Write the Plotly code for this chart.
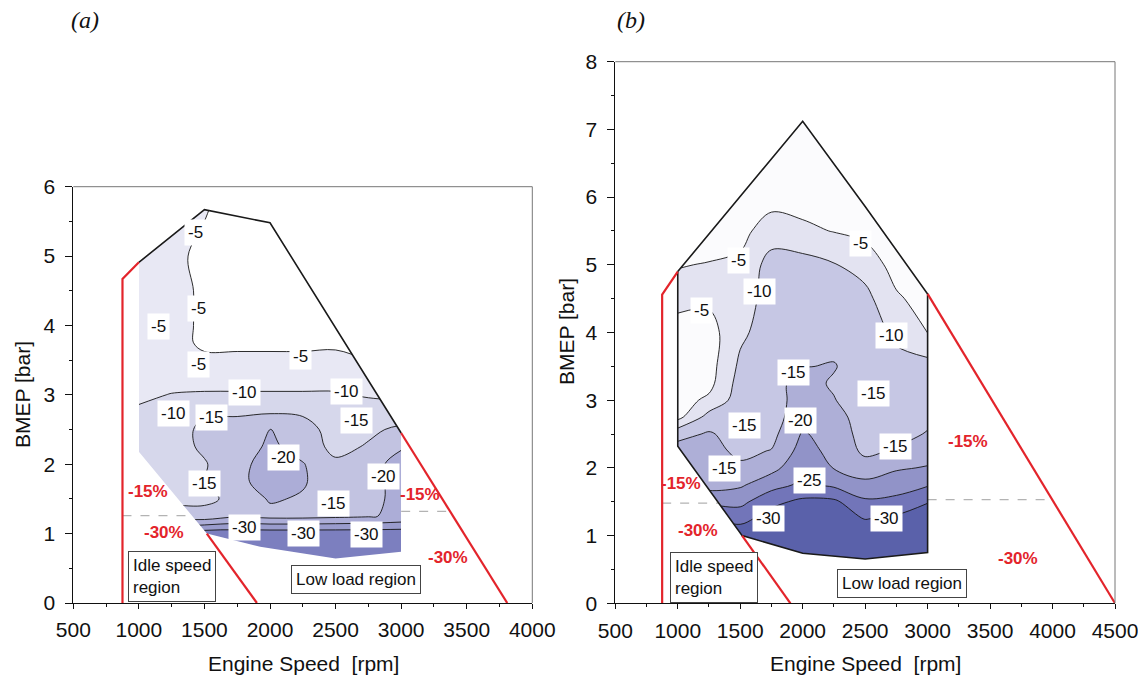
import plotly.graph_objects as go

# ---------------- data ----------------
speed_grid = [1000, 1250, 1500, 1750, 2000, 2250, 2500, 2750, 3000]

a_bmep_grid = [0.5, 0.75, 1.0, 1.25, 1.5, 1.75, 2.0, 2.25, 2.5, 2.75, 3.0, 3.25, 3.5, 3.75, 4.0, 4.5, 5.0, 5.75]
a_delta = [
    [-34, -34, -34, -34, -34, -34, -34, -34, -34],
    [-34, -34, -34, -34, -34, -34, -34, -34, -34],
    [-30, -30, -33, -33, -33, -33, -33, -33, -33],
    [-20, -18, -17, -19.5, -18.5, -18.5, -19, -19.6, -21],
    [-14, -13.5, -13.8, -16.5, -20.5, -19.5, -14.6, -18, -22],
    [-13, -13, -14.9, -18.5, -22.5, -20.5, -17, -18, -22],
    [-13, -13, -14.6, -18.5, -22, -20.3, -16, -18, -22],
    [-13, -13, -15.8, -17, -21, -18, -13.5, -15.5, -19.5],
    [-13, -13, -16, -16.5, -20.3, -16.5, -13.5, -14, -16],
    [-10.8, -11.5, -14.5, -14.5, -14.5, -14.5, -14, -12.5, -12],
    [-9, -10.2, -10.5, -10.5, -10.5, -10.5, -10.5, -9.5, -9],
    [-8, -8, -8, -8, -8, -8, -8, -7, -6],
    [-7, -7, -6, -6, -6, -6, -6, -5, -4],
    [-7, -7, -4, -4, -4, -4, -4.3, -3, -3],
    [-7, -7, -4, -3, -3, -3, -3, -3, -3],
    [-7, -7, -4, -3, -3, -3, -3, -3, -3],
    [-7, -6, -4, -3, -3, -3, -3, -3, -3],
    [-7, -6, -5.5, -3, -3, -3, -3, -3, -3],
]

# (b)
b_bmep_grid = [0.5, 0.75, 1.0, 1.25, 1.5, 1.75, 2.0, 2.25, 2.5, 2.75, 3.0, 3.25, 3.5, 4.0, 4.5, 5.0, 5.5, 6.0, 7.25]
b_delta = [
    [-34, -34, -34, -34, -34, -34, -34, -34, -34],
    [-34, -34, -34, -34, -34, -34, -34, -34, -34],
    [-33, -33, -33, -33.5, -34, -34, -33, -33.5, -34],
    [-30, -30, -28.5, -32, -33, -33, -29.8, -31, -32],
    [-25, -24, -23.5, -28.8, -31, -31, -25.8, -26.5, -29.8],
    [-21, -18, -19.3, -23, -26, -24, -21.5, -22.5, -24.5],
    [-18, -17, -15.8, -18.5, -23.5, -19.8, -17, -19.5, -20.3],
    [-17, -16.5, -14, -15.2, -22, -18.5, -14, -15.5, -18],
    [-13.5, -15.5, -13, -13.5, -20.5, -18, -13, -13.5, -15.3],
    [-3.5, -12, -13, -12.5, -18.5, -17, -12.5, -13, -14],
    [-3, -6, -12.5, -12.5, -17.5, -15.2, -12.5, -12.8, -13.5],
    [-3, -3.5, -12, -13.5, -16.5, -14.5, -12.5, -12.5, -12.5],
    [-3, -3, -11, -12.5, -14.8, -15.3, -12.5, -11.5, -11.8],
    [-3, -3, -9, -12.5, -13, -13, -12.5, -9, -4.9],
    [-6.5, -6, -7, -12.5, -13, -12.5, -11.5, -5.7, -3],
    [-4.8, -5.2, -6, -12, -12, -10.3, -8, -3, -3],
    [-3, -3, -3.5, -7.5, -6, -4.8, -3.5, -3, -3],
    [-3, -3, -3, -3, -3, -3, -3, -3, -3],
    [-3, -3, -3, -3, -3, -3, -3, -3, -3],
]

contour_start, contour_end, contour_step = -30, -5, 5

# band colours: < -30, -30..-25, -25..-20, -20..-15, -15..-10, -10..-5, > -5
a_fill_colors = ["#7c7fbf", "#9a9ccd", "#acadd7", "#c2c3e1", "#d6d7eb", "#e8e8f4", "#ffffff"]
b_fill_colors = ["#5a61aa", "#7275b9", "#9193c8", "#aeafd7", "#c6c7e4", "#e3e3f1", "#fbfbfd"]

# operating-map outlines (speed rpm, BMEP bar)
a_limit_speed = [1000, 1500, 2000, 3000]
a_limit_bmep = [4.91, 5.67, 5.48, 2.45]
a_region_speed = [1000, 1000, 1500, 2000, 3000, 3000, 2500, 1925, 1518]
a_region_bmep = [2.18, 4.91, 5.67, 5.48, 2.45, 0.74, 0.64, 0.81, 1.0]

b_region_speed = [1000, 1000, 2000, 2500, 3000, 3000, 2500, 2000, 1515]
b_region_bmep = [2.32, 4.9, 7.12, 5.86, 4.57, 0.75, 0.655, 0.74, 1.0]

# red limit lines
a_red_idle_speed = [875, 875, 1000]
a_red_idle_bmep = [0, 4.67, 4.91]
a_red_low_speed = [1518, 1900]
a_red_low_bmep = [1.0, 0]
a_red_high_speed = [3000, 3809]
a_red_high_bmep = [2.45, 0]
b_red_idle_speed = [875, 875, 1000]
b_red_idle_bmep = [0, 4.56, 4.9]
b_red_low_speed = [1515, 1902]
b_red_low_bmep = [1.0, 0]
b_red_high_speed = [3000, 4500]
b_red_high_bmep = [4.57, 0]

# grey dashed separators
a_dash_left_speed = [875, 1405]
a_dash_left_bmep = [1.26, 1.26]
a_dash_right_speed = [3000, 3402]
a_dash_right_bmep = [1.32, 1.32]
b_dash_left_speed = [875, 1340]
b_dash_left_bmep = [1.48, 1.48]
b_dash_right_speed = [3000, 3973]
b_dash_right_bmep = [1.53, 1.53]

# contour labels
a_lab_text = ["-5", "-5", "-5", "-5", "-5", "-10", "-10", "-10", "-15", "-15", "-20", "-20", "-15", "-15", "-30", "-30", "-30"]
a_lab_speed = [1428, 1453, 1148, 1453, 2229, 1809, 2585, 1263, 1555, 2661, 2101, 2865, 1504, 2483, 1809, 2254, 2737]
a_lab_bmep = [5.34, 4.25, 3.99, 3.44, 3.56, 3.04, 3.05, 2.73, 2.68, 2.63, 2.10, 1.82, 1.72, 1.44, 1.09, 1.0, 0.99]

b_lab_text = ["-5", "-5", "-10", "-5", "-10", "-15", "-15", "-15", "-20", "-15", "-15", "-25", "-30", "-30"]
b_lab_speed = [1485, 2459, 1658, 1191, 2712, 1925, 2565, 1538, 1980, 2739, 1378, 2058, 1725, 2672]
b_lab_bmep = [5.07, 5.31, 4.60, 4.33, 3.96, 3.41, 3.10, 2.63, 2.70, 2.31, 1.99, 1.81, 1.25, 1.26]

# red percentage labels
a_pct_text = ["-15%", "-30%", "-15%", "-30%"]
a_pct_speed = [1073, 1195, 3147, 3358]
a_pct_bmep = [1.61, 1.01, 1.56, 0.65]
b_pct_text = ["-15%", "-30%", "-15%", "-30%"]
b_pct_speed = [1029, 1164, 3325, 3725]
b_pct_bmep = [1.77, 1.08, 2.39, 0.655]

# region boxes: text, left speed, top bmep
a_box_text = ["Idle speed<br>region", "Low load region"]
a_box_speed = [920, 2162]
a_box_bmep = [0.743, 0.551]
b_box_text = ["Idle speed<br>region", "Low load region"]
b_box_speed = [940, 2272]
b_box_bmep = [0.76, 0.505]

# ---------------- helpers ----------------
FONT = "Liberation Sans, Arial, sans-serif"
RED = "#e3242b"

# the page body has an 8 px margin: the figure is drawn 8 px in from the top-left
PAGE_W, PAGE_H, OFF = 1146, 679, 8
FIG_W, FIG_H = PAGE_W - OFF, PAGE_H - OFF


def px_x(px):
    return (px - OFF) / FIG_W


def px_y(py):
    return (PAGE_H - py) / FIG_H


def step_scale(colors):
    n = len(colors)
    scale = []
    for k, c in enumerate(colors):
        lo = 0 if k == 0 else (k - 0.5) / (n - 1)
        hi = 1 if k == n - 1 else (k + 0.5) / (n - 1)
        scale += [[lo, c], [hi, c]]
    return scale


def keyhole(rx, ry, x0, x1, y0, y1):
    pts = list(zip(rx, ry))
    area = sum(pts[i][0] * pts[(i + 1) % len(pts)][1] - pts[(i + 1) % len(pts)][0] * pts[i][1]
               for i in range(len(pts)))
    if area > 0:
        pts = pts[::-1]
    sx, sy = (x1 - x0), (y1 - y0)
    k = min(range(len(pts)), key=lambda i: ((pts[i][0] - x0) / sx) ** 2 + ((pts[i][1] - y0) / sy) ** 2)
    pts = pts[k:] + pts[:k]
    outer = [(x0, y0), (x1, y0), (x1, y1), (x0, y1), (x0, y0)]
    path = outer + pts + [pts[0], (x0, y0)]
    return [p[0] for p in path], [p[1] for p in path]


fig = go.Figure()


def add_panel(xa, ya, grid_y, z, colors, region_x, region_y, outline_x, outline_y,
              red_sets, dash_sets):
    fig.add_trace(go.Contour(
        x=speed_grid, y=grid_y, z=z, xaxis=xa, yaxis=ya,
        autocontour=False,
        contours=dict(start=contour_start, end=contour_end, size=contour_step, coloring="fill"),
        colorscale=step_scale(colors), zmin=-35, zmax=0, showscale=False,
        line=dict(color="#151515", width=0.9, smoothing=1.0), hoverinfo="skip"))
    mx, my = keyhole(region_x, region_y, speed_grid[0] - 10, speed_grid[-1] + 10,
                     grid_y[0] - 0.05, grid_y[-1] + 0.05)
    fig.add_trace(go.Scatter(x=mx, y=my, xaxis=xa, yaxis=ya, mode="lines", fill="toself",
                             fillcolor="white", line=dict(width=0, color="white"),
                             hoverinfo="skip", showlegend=False))
    for sx, sy in dash_sets:
        fig.add_trace(go.Scatter(x=sx, y=sy, xaxis=xa, yaxis=ya, mode="lines",
                                 line=dict(color="#b3b3b3", width=1.3, dash="dash"),
                                 hoverinfo="skip", showlegend=False))
    fig.add_trace(go.Scatter(x=outline_x, y=outline_y, xaxis=xa, yaxis=ya, mode="lines",
                             line=dict(color="#1a1a1a", width=1.6), hoverinfo="skip",
                             showlegend=False))
    for sx, sy in red_sets:
        fig.add_trace(go.Scatter(x=sx, y=sy, xaxis=xa, yaxis=ya, mode="lines",
                                 line=dict(color=RED, width=2.2), hoverinfo="skip",
                                 showlegend=False))


add_panel("x", "y", a_bmep_grid, a_delta, a_fill_colors, a_region_speed, a_region_bmep,
          a_limit_speed, a_limit_bmep,
          [(a_red_idle_speed, a_red_idle_bmep), (a_red_low_speed, a_red_low_bmep),
           (a_red_high_speed, a_red_high_bmep)],
          [(a_dash_left_speed, a_dash_left_bmep), (a_dash_right_speed, a_dash_right_bmep)])

b_outline_x = b_region_speed[1:] + b_region_speed[:2]
b_outline_y = b_region_bmep[1:] + b_region_bmep[:2]
add_panel("x2", "y2", b_bmep_grid, b_delta, b_fill_colors, b_region_speed, b_region_bmep,
          b_outline_x, b_outline_y,
          [(b_red_idle_speed, b_red_idle_bmep), (b_red_low_speed, b_red_low_bmep),
           (b_red_high_speed, b_red_high_bmep)],
          [(b_dash_left_speed, b_dash_left_bmep), (b_dash_right_speed, b_dash_right_bmep)])

annotations = []


def add_labels(xr, yr, texts, xs, ys):
    for t, x, y in zip(texts, xs, ys):
        annotations.append(dict(xref=xr, yref=yr, x=x, y=y, text=t, showarrow=False,
                                xanchor="center", yanchor="middle",
                                bgcolor="white", borderpad=3,
                                font=dict(family=FONT, size=17, color="#111")))


def add_pct(xr, yr, texts, xs, ys):
    for t, x, y in zip(texts, xs, ys):
        annotations.append(dict(xref=xr, yref=yr, x=x, y=y, text="<b>%s</b>" % t,
                                showarrow=False, xanchor="center", yanchor="middle",
                                font=dict(family=FONT, size=17, color=RED)))


def add_boxes(xr, yr, texts, xs, ys):
    for t, x, y in zip(texts, xs, ys):
        annotations.append(dict(xref=xr, yref=yr, x=x, y=y, text=t, showarrow=False,
                                xanchor="left", yanchor="top", align="left",
                                bgcolor="white", bordercolor="#444", borderwidth=1,
                                borderpad=4,
                                font=dict(family=FONT, size=17, color="#111")))


add_labels("x", "y", a_lab_text, a_lab_speed, a_lab_bmep)
add_labels("x2", "y2", b_lab_text, b_lab_speed, b_lab_bmep)
add_pct("x", "y", a_pct_text, a_pct_speed, a_pct_bmep)
add_pct("x2", "y2", b_pct_text, b_pct_speed, b_pct_bmep)
add_boxes("x", "y", a_box_text, a_box_speed, a_box_bmep)
add_boxes("x2", "y2", b_box_text, b_box_speed, b_box_bmep)

title_font = dict(family=FONT, size=21, color="#111")
serif = dict(family="Liberation Serif, Times New Roman, serif", size=24, color="#111")
paper_texts = [
    (303, 663, "Engine Speed\u00a0 [rpm]", 0, title_font),
    (865, 663, "Engine Speed\u00a0 [rpm]", 0, title_font),
    (22, 395, "BMEP [bar]", -90, title_font),
    (566, 332, "BMEP [bar]", -90, title_font),
    (85, 20, "<i>(a)</i>", 0, serif),
    (631, 20, "<i>(b)</i>", 0, serif),
]
for px, py, t, ang, f in paper_texts:
    annotations.append(dict(xref="paper", yref="paper", x=px_x(px), y=px_y(py), text=t,
                            textangle=ang, xanchor="center", yanchor="middle",
                            showarrow=False, font=f))


def xaxis_cfg(domain, rng, anchor):
    return dict(domain=domain, range=rng, anchor=anchor, tick0=500, dtick=500,
                ticks="outside", ticklen=5, tickwidth=1, tickcolor="#111",
                showline=True, linecolor="#111", linewidth=1, showgrid=False, zeroline=False,
                automargin=False,
                tickfont=dict(family=FONT, size=21, color="#111"), ticklabelstandoff=3,
                minor=dict(dtick=250, tick0=500, ticks="outside", ticklen=3, tickcolor="#111",
                           showgrid=False))


def yaxis_cfg(domain, rng, anchor):
    return dict(domain=domain, range=rng, anchor=anchor, tick0=0, dtick=1,
                ticks="outside", ticklen=7, tickwidth=1, tickcolor="#111",
                showline=True, linecolor="#111", linewidth=1, showgrid=False, zeroline=False,
                automargin=False,
                tickfont=dict(family=FONT, size=21, color="#111"), ticklabelstandoff=6,
                minor=dict(dtick=0.5, tick0=0, ticks="outside", ticklen=3, tickcolor="#111",
                           showgrid=False))


shapes = []
for xr, yr in [("x domain", "y domain"), ("x2 domain", "y2 domain")]:
    shapes.append(dict(type="line", xref=xr, yref=yr, x0=0, x1=1, y0=1, y1=1,
                       line=dict(color="#777", width=1)))
    shapes.append(dict(type="line", xref=xr, yref=yr, x0=1, x1=1, y0=0, y1=1,
                       line=dict(color="#777", width=1)))

fig.update_layout(
    width=FIG_W, height=FIG_H, margin=dict(l=0, r=0, t=0, b=0, autoexpand=False),
    paper_bgcolor="white", plot_bgcolor="white", showlegend=False,
    xaxis=xaxis_cfg([px_x(73.3), px_x(532.3)], [500, 4000], "y"),
    yaxis=yaxis_cfg([px_y(603), px_y(186.7)], [0, 6], "x"),
    xaxis2=xaxis_cfg([px_x(615.3), px_x(1115)], [500, 4500], "y2"),
    yaxis2=yaxis_cfg([px_y(603.3), px_y(61.7)], [0, 8], "x2"),
    annotations=annotations, shapes=shapes,
)

fig.write_html("out.html")
